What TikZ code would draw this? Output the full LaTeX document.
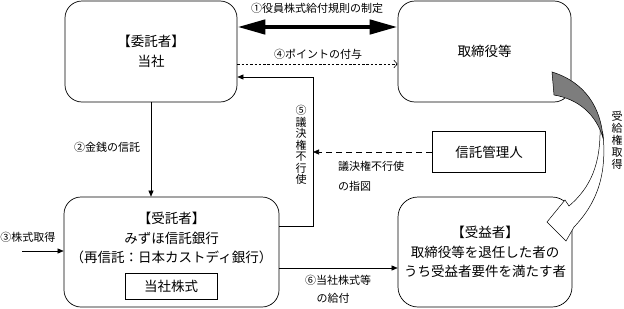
\documentclass[tikz,border=0pt]{standalone}
\usepackage{fontspec}
\setmainfont{Noto Sans CJK JP}
\usetikzlibrary{arrows.meta}
\definecolor{arrgray}{RGB}{125,125,125}
\begin{document}
\begin{tikzpicture}[x=1pt,y=-1pt,
  box/.style={draw, line width=0.7pt, rounded corners=17pt, inner sep=0pt},
  sqbox/.style={draw, line width=0.7pt, inner sep=0pt},
  big/.style={font=\fontsize{13.5}{19.5}\selectfont, align=center},
  lbl/.style={font=\fontsize{11}{13}\selectfont, inner sep=0pt},
  vlbl/.style={font=\fontsize{11}{11.5}\selectfont, inner sep=0pt, align=center},
  arr/.style={-{Triangle[length=6pt,width=5pt]}, line width=0.6pt},
]
\useasboundingbox (0,0) rectangle (624,308);

% boxes
\node[box, minimum width=172pt, minimum height=101pt, big] (wt) at (151,51.5) {【委託者】\\当社};
\node[box, minimum width=173pt, minimum height=101pt, big] (tt) at (484.5,51.5) {取締役等};
\node[box, minimum width=215pt, minimum height=110pt] (jt) at (171.5,252) {};
\node[big] (jtt) at (171.5,238) {【受託者】\\みずほ信託銀行\\（再信託：日本カストディ銀行）};
\node[sqbox, minimum width=92pt, minimum height=26pt, font=\fontsize{13.5}{15}\selectfont] (ks) at (171,286) {当社株式};
\node[box, rounded corners=20pt, minimum width=174pt, minimum height=110pt, big] (jy) at (485,252) {【受益者】\\取締役等を退任した者の\\うち受益者要件を満たす者};
\node[sqbox, minimum width=113pt, minimum height=41pt, big] (sk) at (489,152) {信託管理人};

% labels
\node[lbl] (l1) at (317,8) {①役員株式給付規則の制定};
\node[lbl] (l4) at (318,54) {④ポイントの付与};
\node[lbl] (l2) at (107,147) {②金銭の信託};
\node[lbl] (l3) at (28,237) {③株式取得};
\node[lbl] (l6a) at (338,280) {⑥当社株式等};
\node[lbl] (l6b) at (333,298) {の給付};
\node[lbl, anchor=west] (l7a) at (338,166) {議決権不行使};
\node[lbl, anchor=west] (l7b) at (338,186) {の指図};
\node[vlbl] (l5) at (301,145) {⑤\\議\\決\\権\\不\\行\\使};
\node[vlbl, font=\fontsize{11}{12}\selectfont] (l8) at (617,140) {受\\給\\権\\取\\得};

% connectors
\draw[line width=4.5pt, {Triangle[length=28pt,width=14pt]}-{Triangle[length=28pt,width=14pt]}]
  ([yshift=24.5pt]wt.east) -- ([yshift=24.5pt]tt.west);
\draw[line width=0.6pt, dash pattern=on 2.5pt off 1.8pt, -{Straight Barb[length=3.5pt,width=8pt]}]
  ([yshift=-12.5pt]wt.east) -- ([yshift=-12.5pt]tt.west);
\coordinate (c5) at (313,77);
\draw[arr] ([yshift=26pt]jt.east) -| (c5) -- ([yshift=-25.5pt]wt.east);
\draw[arr, dash pattern=on 6pt off 4pt] (sk.west) -- (sk.west -| c5);
\draw[arr] (wt.south) -- (wt.south |- jt.north);
\coordinate (s3) at (22,251);
\draw[arr] (s3) -- (s3 -| jt.west);
\draw[arr] ([yshift=-16pt]jt.east) -- ([yshift=-16pt]jy.west);

% curved arrow
\draw[fill=white, line width=0.5pt, line join=miter]
  (600,126) .. controls (601,165) and (590,188) .. (569,206)
  -- (565,200) -- (547,222) -- (566,241) -- (574,227)
  .. controls (597,203) and (607,175) .. (603,134) -- cycle;
\draw[fill=arrgray, line width=0.5pt]
  (552,72) .. controls (585,82) and (601,108) .. (603,138)
  .. controls (596,114) and (578,99) .. (554,95) -- cycle;
\end{tikzpicture}
\end{document}
